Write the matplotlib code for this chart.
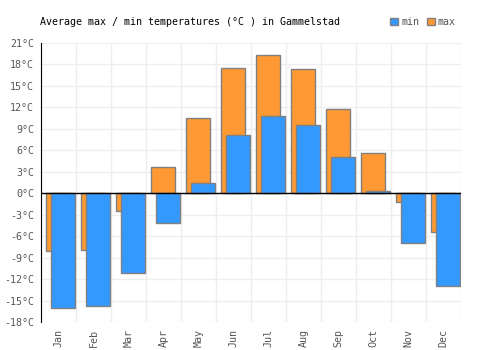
import matplotlib.pyplot as plt
import numpy as np

months = ['Jan', 'Feb', 'Mar', 'Apr', 'May', 'Jun', 'Jul', 'Aug', 'Sep', 'Oct', 'Nov', 'Dec']
t_max = [-8.1, -8.0, -2.5, 3.6, 10.5, 17.5, 19.3, 17.4, 11.8, 5.6, -1.2, -5.4]
t_min = [-16.1, -15.7, -11.1, -4.1, 1.5, 8.2, 10.8, 9.6, 5.0, 0.3, -6.9, -13.0]
yticks = list(range(-18, 22, 3))

plt.rcParams['font.family'] = 'DejaVu Sans Mono'

fig = plt.figure(figsize=(5, 3.5), dpi=100)
ax = fig.add_axes([41/500, 1 - 322/350, 420/500, 279/350])

x = np.arange(len(months))
# orange (max) sits behind, blue (min) shifted right
ax.bar(x + 0.15, t_max, width=0.67, align='edge', color='#ff9933',
       edgecolor='#808080', linewidth=1, zorder=2, label='max')
ax.bar(x + 0.29, t_min, width=0.69, align='edge', color='#3399ff',
       edgecolor='#808080', linewidth=1, zorder=3, label='min')

ax.set_xlim(0, 12)
ax.set_ylim(-18, 21)
ax.set_yticks(yticks)
ax.set_yticklabels([f'{v}°C' for v in yticks], fontsize=7.2, color='#555555')
ax.set_xticks(x + 0.5)
ax.set_xticklabels(months, rotation=90, fontsize=7.2, color='#555555')
ax.set_xticks(np.arange(13), minor=True)
ax.grid(True, which='minor', axis='x', color='#eeeeee', linewidth=1, zorder=0)
ax.grid(True, which='major', axis='y', color='#eeeeee', linewidth=1, zorder=0)
ax.tick_params(axis='both', which='both', length=0, pad=5)

for s in ['top', 'right', 'bottom']:
    ax.spines[s].set_visible(False)
ax.spines['left'].set_color('black')
ax.axhline(0, color='black', linewidth=1, zorder=4)

fig.text(40/500, 1 - 22/350, 'Average max / min temperatures (°C ) in Gammelstad',
         fontsize=7.2, va='center', ha='left')

handles, labels = ax.get_legend_handles_labels()
leg = fig.legend(handles[::-1], labels[::-1], loc='center', bbox_to_anchor=(423/500, 1 - 22/350),
                 ncol=2, frameon=False, fontsize=7.2, handlelength=0.8, handleheight=0.8,
                 handletextpad=0.3, columnspacing=0.8, labelcolor='#555555')

fig.savefig('out.png', dpi=100)
